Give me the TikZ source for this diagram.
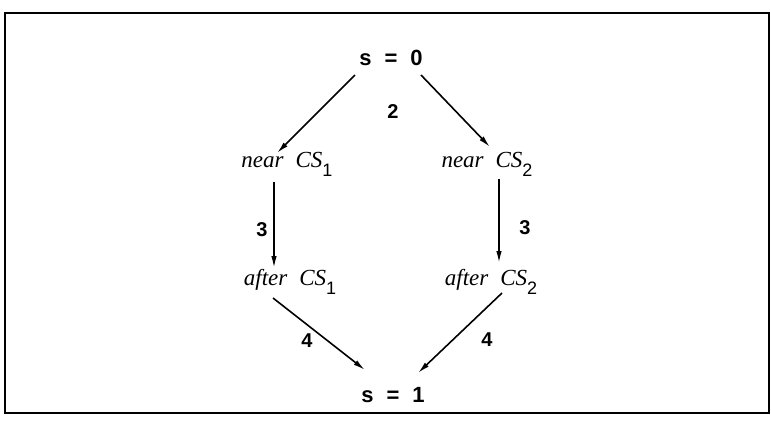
\documentclass[tikz,border=0pt]{standalone}
\usepackage{fontspec}
\setmainfont{Liberation Serif}
\setsansfont{Liberation Sans}
\usetikzlibrary{arrows.meta,calc}
\begin{document}
\begin{tikzpicture}[x=1pt,y=-1pt,
  state/.style={inner sep=0pt, font=\itshape\fontsize{23}{27}\selectfont},
  sval/.style={inner sep=0pt, font=\sffamily\bfseries\fontsize{22}{26}\selectfont},
  num/.style={inner sep=0pt, font=\sffamily\bfseries\fontsize{20}{24}\selectfont},
  arr/.style={line width=1.6pt, -{Latex[length=12pt,width=5.5pt]}},
  frame/.style={line width=2pt}]
\useasboundingbox (0,0) rectangle (771,424);
\draw[frame] (5,13) rectangle (769,413);
\newcommand{\subn}[1]{\raisebox{-9pt}{\upshape\sffamily\fontsize{18}{18}\selectfont #1}}
\node[sval] (s0) at (391,58) {s\hspace{13pt}=\hspace{13pt}0};
\node[state] (n1) at (287,164) {near\hspace{12pt}CS\subn{1}};
\node[state] (n2) at (487,164) {near\hspace{12pt}CS\subn{2}};
\node[state] (a1) at (290,282) {after\hspace{12pt}CS\subn{1}};
\node[state] (a2) at (491,282) {after\hspace{12pt}CS\subn{2}};
\node[sval] (s1) at (393,395) {s\hspace{13pt}=\hspace{13pt}1};
\node[num] (l2) at (393,112) {2};
\node[num] (l3a) at (262,230) {3};
\node[num] (l3b) at (525,228) {3};
\node[num] (l4a) at (307,341) {4};
\node[num] (l4b) at (487,340) {4};
\draw[arr] ($(s0)+(-36,17)$) -- ($(n1)+(-10,-11)$);
\draw[arr] ($(s0)+(30,17)$) -- ($(n2)+(3,-17)$);
\draw[arr] ($(n1)+(-13,18)$) -- ($(a1)+(-16,-14)$);
\draw[arr] ($(n2)+(12,15)$) -- ($(a2)+(8,-19)$);
\draw[arr] ($(a1)+(-17,16)$) -- ($(s1)+(-28,-25)$);
\draw[arr] ($(a2)+(11,11)$) -- ($(s1)+(25,-22)$);
\end{tikzpicture}
\end{document}
